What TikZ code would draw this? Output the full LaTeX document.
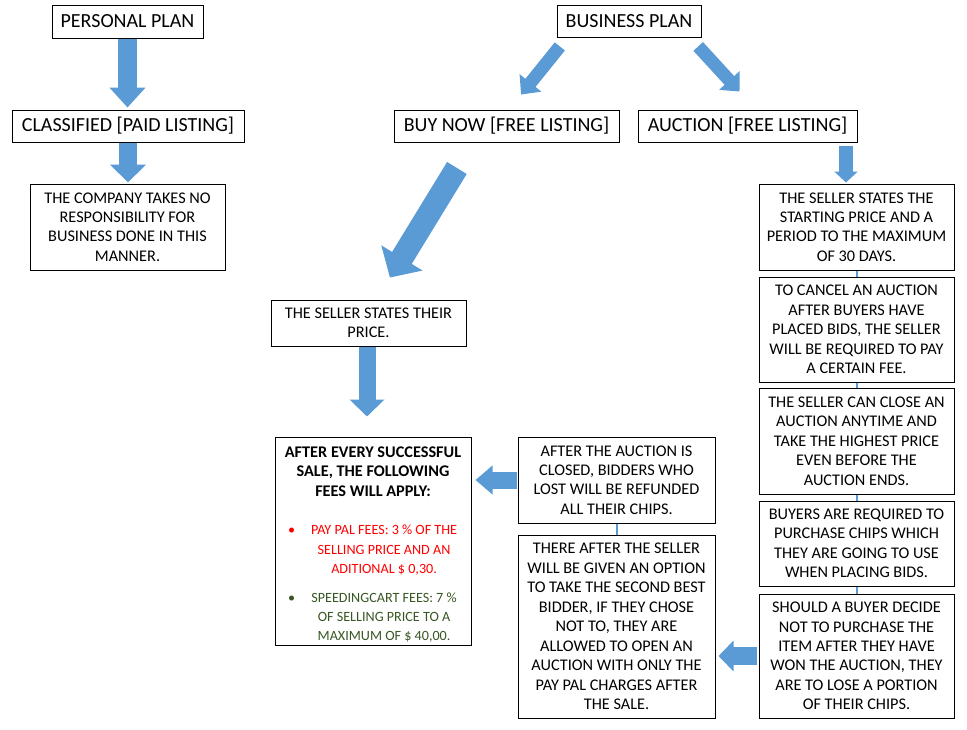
\documentclass[tikz,border=0pt]{standalone}
\usepackage{fontspec}
\setmainfont{Carlito}
\usetikzlibrary{arrows.meta,calc}

\definecolor{arrowblue}{RGB}{91,155,213}
\definecolor{feered}{RGB}{255,0,0}
\definecolor{feegreen}{RGB}{56,87,35}
\newcommand{\feeitem}[2]{{\color{#1}\fontsize{10.6}{14.6}\selectfont\hspace*{2.6pt}\makebox[14pt][l]{\textbullet}\parbox[t]{116pt}{\centering #2}}}

\begin{document}
\begin{tikzpicture}[
            x=0.75pt, y=-0.75pt,
            sz/.style 2 args={minimum width=#1*0.75pt, minimum height=#2*0.75pt},
            box/.style={draw, fill=white, line width=0.75pt, align=center, inner sep=1pt, font=\fontsize{12.2}{14.6}\selectfont},
            title/.style={box, font=\fontsize{15}{17}\selectfont},
            fat/.style n args={3}{draw=arrowblue, line width=#1, -{Triangle[width=#2,length=#3]}},
            link/.style={draw=arrowblue, line width=1.5pt}
        ]
        \useasboundingbox (0,0) rectangle (967,729);

        % Plans
        \node[title, sz={151}{33}] (personal) at (127.5,21.5) {PERSONAL PLAN};
        \node[title, sz={144}{32}] (business) at (629,21) {BUSINESS PLAN};

        % Listings
        \node[title, sz={232}{32}] (classified) at (128,126) {CLASSIFIED [PAID LISTING]};
        \node[title, sz={225}{32}] (buynow) at (506.5,126) {BUY NOW [FREE LISTING]};
        \node[title, sz={219}{32}] (auction) at (747.5,126) {AUCTION [FREE LISTING]};

        % Classified and buy now
        \node[box, sz={195}{86}] (company) at (127.5,227) {THE COMPANY TAKES NO\\RESPONSIBILITY FOR\\BUSINESS DONE IN THIS\\MANNER.};
        \node[box, sz={195}{46}] (price) at (368.5,323) {THE SELLER STATES THEIR\\PRICE.};
        \node[box, sz={196}{208}] (fees) at (373,541) {\rule{0pt}{13.5pt}\textbf{AFTER EVERY SUCCESSFUL}\\\textbf{SALE, THE FOLLOWING}\\\textbf{FEES WILL APPLY:}\\[14.25pt]
            \feeitem{feered}{PAY PAL FEES: 3 \% OF THE\\SELLING PRICE AND AN\\ADITIONAL \$ 0,30.}\\[11.75pt]
            \feeitem{feegreen}{SPEEDINGCART FEES: 7 \%\\OF SELLING PRICE TO A\\MAXIMUM OF \$ 40,00.}};

        % Auction
        \node[box, sz={195}{86}] (start) at (856.5,227) {THE SELLER STATES THE\\STARTING PRICE AND A\\PERIOD TO THE MAXIMUM\\OF 30 DAYS.};
        \node[box, sz={195}{105}] (cancel) at (856.5,329.5) {TO CANCEL AN AUCTION\\AFTER BUYERS HAVE\\PLACED BIDS, THE SELLER\\WILL BE REQUIRED TO PAY\\A CERTAIN FEE.};
        \node[box, sz={195}{106}] (close) at (856.5,441) {THE SELLER CAN CLOSE AN\\AUCTION ANYTIME AND\\TAKE THE HIGHEST PRICE\\EVEN BEFORE THE\\AUCTION ENDS.};
        \node[box, sz={195}{85}] (chips) at (856.5,543.5) {BUYERS ARE REQUIRED TO\\PURCHASE CHIPS WHICH\\THEY ARE GOING TO USE\\WHEN PLACING BIDS.};
        \node[box, sz={195}{124}] (lose) at (856.5,656) {SHOULD A BUYER DECIDE\\NOT TO PURCHASE THE\\ITEM AFTER THEY HAVE\\WON THE AUCTION, THEY\\ARE TO LOSE A PORTION\\OF THEIR CHIPS.};
        \node[box, sz={197}{86}] (refund) at (616.5,480) {AFTER THE AUCTION IS\\CLOSED, BIDDERS WHO\\LOST WILL BE REFUNDED\\ALL THEIR CHIPS.};
        \node[box, sz={197}{183}] (second) at (616.5,626.5) {THERE AFTER THE SELLER\\WILL BE GIVEN AN OPTION\\TO TAKE THE SECOND BEST\\BIDDER, IF THEY CHOSE\\NOT TO, THEY ARE\\ALLOWED TO OPEN AN\\AUCTION WITH ONLY THE\\PAY PAL CHARGES AFTER\\THE SALE.};

        % Block arrows
        \draw[fat={14.25pt}{26.25pt}{15pt}, shorten >=1.5pt] (personal.south) -- (personal.south |- classified.north);
        \draw[fat={13.5pt}{26.25pt}{13.5pt}, shorten >=0.75pt] (classified.south) -- (classified.south |- company.north);
        \draw[fat={9.75pt}{20.25pt}{11.25pt}, shorten <=8.6pt, shorten >=14.4pt] ($(business.south)+(-62,0)$) -- ($(buynow.north)+(2.5,0)$);
        \draw[fat={9.75pt}{20.25pt}{11.25pt}, shorten <=9.1pt, shorten >=18.3pt] ($(business.south)+(61,0)$) -- ($(auction.north)+(8.5,0)$);
        \draw[fat={10.5pt}{17.25pt}{8.25pt}, shorten <=2.25pt, shorten >=0.75pt] ($(auction.south -| start.north)+(-10.5,0)$) -- ($(start.north)+(-10.5,0)$);
        \draw[fat={17.25pt}{35.25pt}{17.25pt}, shorten <=22.4pt, shorten >=19.3pt] ($(buynow.south)+(-34,0)$) -- ($(price.north)+(8,0)$);
        \draw[fat={12.75pt}{25.5pt}{12.75pt}, shorten >=15pt] ($(price.south)+(-1.5,0)$) -- ($(price.south |- fees.north)+(-1.5,0)$);
        \draw[fat={12.75pt}{21pt}{12.75pt}, shorten <=0.75pt, shorten >=3pt] (refund.west) -- (refund.west -| fees.east);
        \draw[fat={13.5pt}{22.5pt}{11.25pt}, shorten <=1.5pt, shorten >=2.25pt] (lose.west) -- (lose.west -| second.east);

        % Small links between the auction steps
        \path[link]
        (start.south) edge (cancel.north)
        (cancel.south) edge (close.north)
        (close.south) edge (chips.north)
        (chips.south) edge (lose.north)
        (refund.south) edge (second.north);

        \end{tikzpicture}
\end{document}
